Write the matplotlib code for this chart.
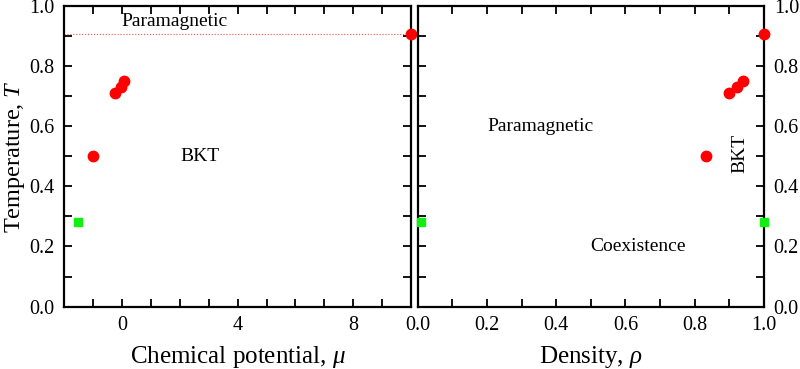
import matplotlib
matplotlib.use("Agg")
import matplotlib.pyplot as plt
from matplotlib.ticker import MultipleLocator, FixedLocator, FormatStrFormatter

plt.rcParams['font.family'] = ['Liberation Serif', 'DejaVu Serif']
plt.rcParams['mathtext.fontset'] = 'custom'
plt.rcParams['mathtext.rm'] = 'Liberation Serif'
plt.rcParams['mathtext.it'] = 'Liberation Serif:italic'

# left panel: chemical potential
mu_bkt = [-1.0, -0.23, -0.03, 0.09, 10.0]
T_bkt = [0.50, 0.71, 0.73, 0.75, 0.906]
mu_coex = [-1.52]
T_coex = [0.28]
T_tricrit = 0.906

# right panel: density
rho_bkt = [0.832, 0.899, 0.923, 0.938, 1.0]
rho_T_bkt = [0.50, 0.71, 0.73, 0.75, 0.906]
rho_coex = [0.01, 1.0]
rho_T_coex = [0.28, 0.28]

red = '#ff0000'
green = '#11ee11'

fig = plt.figure(figsize=(8, 3.69), dpi=100)
ax1 = fig.add_axes([0.080, 0.169, 0.434, 0.815])
ax2 = fig.add_axes([0.522, 0.169, 0.433, 0.815])

for ax in (ax1, ax2):
    ax.set_ylim(0, 1)
    ax.yaxis.set_major_locator(MultipleLocator(0.2))
    ax.yaxis.set_minor_locator(MultipleLocator(0.1))
    ax.yaxis.set_major_formatter(FormatStrFormatter('%.1f'))
    ax.tick_params(which='both', direction='in', top=True, right=True,
                   length=6, width=1.3, labelsize=14.5, pad=7)
    for s in ax.spines.values():
        s.set_linewidth(1.6)

# left
ax1.set_xlim(-2, 10)
ax1.xaxis.set_major_locator(FixedLocator([0, 4, 8]))
ax1.xaxis.set_minor_locator(MultipleLocator(1))
ax1.plot([-2, 10], [T_tricrit, T_tricrit], ':', color=red, lw=0.8, alpha=0.7)
ax1.plot(mu_bkt, T_bkt, 'o', color=red, ms=7.5, clip_on=False, zorder=5)
ax1.plot(mu_coex, T_coex, 's', color=green, ms=6, clip_on=False, zorder=5)
ax1.text(1.82, 0.947, 'Paramagnetic', fontsize=14, ha='center', va='center')
ax1.text(2.7, 0.50, 'BKT', fontsize=14, ha='center', va='center')
ax1.set_xlabel(r'Chemical potential, $\mu$', fontsize=18, labelpad=6)
ax1.set_ylabel(r'Temperature, $T$', fontsize=17.5, va='center')
ax1.yaxis.set_label_coords(-0.14, 0.5)

# right
ax2.set_xlim(0, 1)
ax2.xaxis.set_major_locator(MultipleLocator(0.2))
ax2.xaxis.set_minor_locator(MultipleLocator(0.1))
ax2.xaxis.set_major_formatter(FormatStrFormatter('%.1f'))
ax2.tick_params(axis='y', labelleft=False, labelright=True)
ax2.plot(rho_bkt, rho_T_bkt, 'o', color=red, ms=7.5, clip_on=False, zorder=5)
ax2.plot(rho_coex, rho_T_coex, 's', color=green, ms=6, clip_on=False, zorder=5)
ax2.text(0.354, 0.60, 'Paramagnetic', fontsize=14, ha='center', va='center')
ax2.text(0.637, 0.20, 'Coexistence', fontsize=14, ha='center', va='center')
ax2.text(0.93, 0.51, 'BKT', fontsize=14, ha='center', va='center', rotation=90)
ax2.set_xlabel(r'Density, $\rho$', fontsize=18, labelpad=6)

fig.savefig('out.png', dpi=100)
